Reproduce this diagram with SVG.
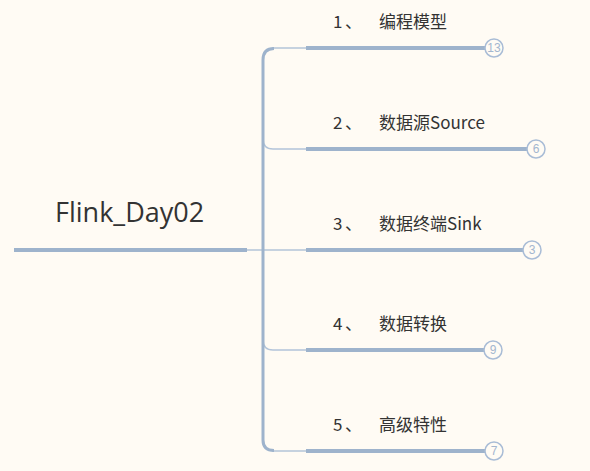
<svg xmlns="http://www.w3.org/2000/svg" width="590" height="471" viewBox="0 0 590 471">
<style>
.bg{fill:#fffbf4}
.thick{stroke:#9eb3cc;stroke-width:4;fill:none}
.trunk{stroke:#9eb3cc;stroke-width:3;fill:none}
.thin{stroke:#b3c4d9;stroke-width:1.5;fill:none}
.badge circle{fill:#fffbf4;stroke:#a9bcd6;stroke-width:1.5}
.badge text{font-family:"Liberation Sans",Arial,sans-serif;font-size:12px;fill:#a3b6cf;text-anchor:middle}
.lbl{font-family:"Noto Sans CJK SC","Noto Sans",sans-serif;font-size:17px;fill:#333}
.root{font-family:"Open Sans","Liberation Sans",sans-serif;font-size:27px;fill:#333}
</style>
<rect class="bg" width="590" height="471"/>
<g id="connectors">
<path class="thin" d="M247 250 L263 250"/>
<path class="thin" d="M272 48 L307 48"/>
<path class="thin" d="M263 139 Q263 149 273 149 L307 149"/>
<path class="thin" d="M263 250 L307 250"/>
<path class="thin" d="M263 340 Q263 350 273 350 L307 350"/>
<path class="thin" d="M272 451 L307 451"/>
<path class="trunk" d="M274 48.5 Q263 48.5 263 60 L263 440 Q263 450.5 274 450.5"/>
</g>
<g id="root">
<path class="thick" d="M14 250 L247 250"/>
<text class="root" x="55" y="222">Flink_Day02</text>
</g>
<g id="n1">
<path class="thick" d="M306 48 L485 48"/>
<text class="lbl" x="333" y="28">1</text><text class="lbl" x="345" y="28">、</text><text class="lbl" x="379" y="28">编程模型</text>
<g class="badge"><circle cx="494" cy="48" r="9"/><text x="494" y="52">13</text></g>
</g>
<g id="n2">
<path class="thick" d="M306 149 L527 149"/>
<text class="lbl" x="333" y="129">2</text><text class="lbl" x="345" y="129">、</text><text class="lbl" x="379" y="129">数据源Source</text>
<g class="badge"><circle cx="536" cy="149" r="9"/><text x="536" y="153">6</text></g>
</g>
<g id="n3">
<path class="thick" d="M306 250 L523 250"/>
<text class="lbl" x="333" y="230">3</text><text class="lbl" x="345" y="230">、</text><text class="lbl" x="379" y="230">数据终端Sink</text>
<g class="badge"><circle cx="532" cy="250" r="9"/><text x="532" y="254">3</text></g>
</g>
<g id="n4">
<path class="thick" d="M306 350 L484 350"/>
<text class="lbl" x="333" y="330">4</text><text class="lbl" x="345" y="330">、</text><text class="lbl" x="379" y="330">数据转换</text>
<g class="badge"><circle cx="493" cy="350" r="9"/><text x="493" y="354">9</text></g>
</g>
<g id="n5">
<path class="thick" d="M306 451 L485 451"/>
<text class="lbl" x="333" y="431">5</text><text class="lbl" x="345" y="431">、</text><text class="lbl" x="379" y="431">高级特性</text>
<g class="badge"><circle cx="494" cy="451" r="9"/><text x="494" y="455">7</text></g>
</g>
</svg>
